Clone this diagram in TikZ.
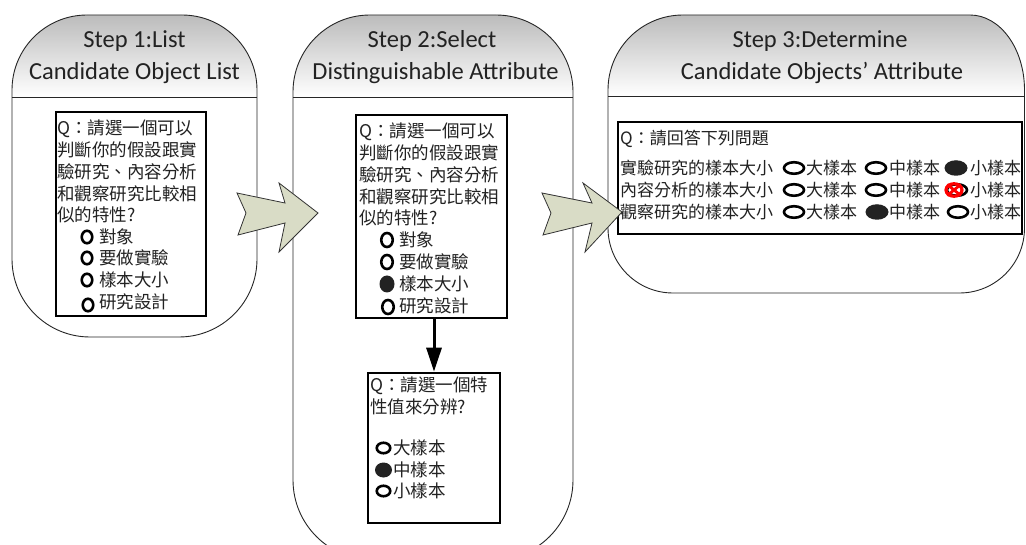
\documentclass[tikz,border=0pt]{standalone}
\usepackage{fontspec}
\setmainfont{Carlito}
\newfontfamily\cjk{Noto Sans CJK TC}
\usetikzlibrary{arrows.meta,shapes.geometric}
\definecolor{arrowfill}{HTML}{D9DCC6}
\definecolor{ink}{HTML}{222222}
\tikzset{
  panel/.style={draw=black!85, line width=0.9pt},
  header/.style={top color=black!28, bottom color=white},
  qbox/.style={draw=black, line width=2.6pt, inner sep=0pt},
  title/.style={font=\fontsize{24.5}{30}\selectfont, text=ink, anchor=base, inner sep=0pt},
  txt/.style={font=\cjk\fontsize{17.5}{22}\selectfont, text=ink, anchor=base west, inner sep=0pt},
  txts/.style={txt, font=\cjk\fontsize{17}{22}\selectfont},
  ring/.style={ellipse, draw=black, line width=2.6pt, inner sep=0pt},
  ringA/.style={ring, minimum width=10.5pt, minimum height=12.5pt},
  ringB/.style={ring, minimum width=11.5pt, minimum height=14pt},
  ringC/.style={ring, minimum width=13.5pt, minimum height=10.5pt},
  ringD/.style={ring, minimum width=20pt, minimum height=11.5pt},
  dot/.style={ellipse, fill=ink, inner sep=0pt},
  dotB/.style={dot, minimum width=15pt, minimum height=17pt},
  dotC/.style={dot, minimum width=17pt, minimum height=15pt},
  dotD/.style={dot, minimum width=23pt, minimum height=15.5pt},
  flow/.style={draw=black!80, line width=0.8pt, fill=arrowfill, line join=miter},
  down/.style={line width=3pt, -{Triangle[length=24pt,width=15pt]}},
}
% outlines of the three step panels (y grows downwards)
\def\panelA{(12,90) arc[start angle=180,end angle=270,radius=75] -- (182,15)
  arc[start angle=270,end angle=360,radius=75] -- (257,259)
  arc[start angle=0,end angle=90,radius=78] -- (90,337)
  arc[start angle=90,end angle=180,radius=78] -- cycle}
\def\panelB{(293,92) arc[start angle=180,end angle=270,radius=77] -- (496,15)
  arc[start angle=270,end angle=360,radius=77] -- (573,480)
  arc[start angle=0,end angle=90,radius=80] -- (373,560)
  arc[start angle=90,end angle=180,radius=80] -- cycle}
\def\panelC{(608,90) arc[start angle=180,end angle=270,radius=75] -- (970,15)
  arc[start angle=270,end angle=360,x radius=54.5,y radius=75] -- (1024.5,228)
  arc[start angle=0,end angle=90,radius=65] -- (673,293)
  arc[start angle=90,end angle=180,radius=65] -- cycle}
\begin{document}
\begin{tikzpicture}[x=1pt,y=-1pt]
\useasboundingbox (0,0) rectangle (1026,545);
\clip (0,0) rectangle (1026,545);

% panels: white body, shaded header, outline, header rule
\foreach \p/\xa/\xb/\hy in {\panelA/12/257/97, \panelB/293/573/97, \panelC/608/1024.5/96} {
  \fill[white] \p;
  \begin{scope}
    \clip \p;
    \shade[header] (\xa,10) rectangle (\xb,\hy);
  \end{scope}
  \draw[panel] \p;
  \draw[panel] (\xa,\hy) -- (\xb,\hy);
}

% panel titles
\node[title] (t1a) at (134.5,48) {Step 1:List};
\node[title] (t1b) at (134.5,80) {Candidate Object List};
\node[title] (t2a) at (432,48) {Step 2:Select};
\node[title] (t2b) at (435.5,80) {Distinguishable Attribute};
\node[title] (t3a) at (820,48) {Step 3:Determine};
\node[title] (t3b) at (822,80) {Candidate Objects’ Attribute};

% question boxes
\node[qbox, minimum width=150pt, minimum height=204pt] (q1) at (131,214) {};
\node[qbox, minimum width=151pt, minimum height=203pt] (q2) at (431.5,216.5) {};
\node[qbox, minimum width=132pt, minimum height=150pt] (q3) at (434,448) {};
\node[qbox, minimum width=404pt, minimum height=112pt] (q4) at (820,178) {};

% step 1 question
\node[txt] (a1) at (57,134.5) {Q：請選一個可以};
\node[txt] (a2) at (57,156.5) {判斷你的假設跟實};
\node[txt] (a3) at (57,178.5) {驗研究、內容分析};
\node[txt] (a4) at (57,200.5) {和觀察研究比較相};
\node[txt] (a5) at (57,221.5) {似的特性?};
\node[txt] (a6) at (99,243.5) {對象};
\node[txt] (a7) at (99,264.5) {要做實驗};
\node[txt] (a8) at (99,286.5) {樣本大小};
\node[txt] (a9) at (99,308.5) {研究設計};
\node[ringA] (ra6) at (87,237) {};
\node[ringA] (ra7) at (87,258) {};
\node[ringA] (ra8) at (87,280) {};
\node[ringA] (ra9) at (88,305) {};

% step 2 question
\node[txt] (b1) at (359,137.5) {Q：請選一個可以};
\node[txt] (b2) at (359,159.5) {判斷你的假設跟實};
\node[txt] (b3) at (359,181.5) {驗研究、內容分析};
\node[txt] (b4) at (359,203.5) {和觀察研究比較相};
\node[txt] (b5) at (359,224.5) {似的特性?};
\node[txt] (b6) at (399,246.5) {對象};
\node[txt] (b7) at (399,268.5) {要做實驗};
\node[txt] (b8) at (399,290.5) {樣本大小};
\node[txt] (b9) at (399,312.5) {研究設計};
\node[ringB] (rb6) at (387,240) {};
\node[ringB] (rb7) at (387,262) {};
\node[dotB]  (rb8) at (387,284) {};
\node[ringB] (rb9) at (388,307) {};

% follow-up question on the attribute value
\draw[down] (q2.south -| q3.north) -- (q3.north);
\node[txt] (c1) at (370,391.5) {Q：請選一個特};
\node[txt] (c2) at (370,413.5) {性值來分辨?};
\node[txt] (c3) at (393,454.5) {大樣本};
\node[txt] (c4) at (393,476.5) {中樣本};
\node[txt] (c5) at (393,497.5) {小樣本};
\node[ringC] (rc3) at (383.5,448) {};
\node[dotC]  (rc4) at (383.5,470) {};
\node[ringC] (rc5) at (383.5,491) {};

% step 3 questionnaire
\node[txts] (d0) at (620,144.5) {Q：請回答下列問題};
\node[txts] (d1) at (620,174.3) {實驗研究的樣本大小};
\node[txts] (d2) at (620,196.3) {內容分析的樣本大小};
\node[txts] (d3) at (620,218.3) {觀察研究的樣本大小};
\foreach \r/\y in {1/174.3, 2/196.3, 3/218.3} {
  \node[txts] (d\r a) at (806,\y) {大樣本};
  \node[txts] (d\r b) at (889,\y) {中樣本};
  \node[txts] (d\r c) at (970,\y) {小樣本};
}
\node[ringD] (e1a) at (794,168) {};
\node[ringD] (e1b) at (876,168) {};
\node[dotD]  (e1c) at (956,168) {};
\node[ringD] (e2a) at (794,190) {};
\node[ringD] (e2b) at (876,190) {};
\node[ringD] (e2c) at (957,190) {};
\node[ringD] (e3a) at (794,212) {};
\node[dotD]  (e3b) at (877,212) {};
\node[ringD] (e3c) at (958,212) {};
% the rejected answer
\node[ellipse, draw=red, line width=3.2pt, inner sep=0pt, minimum width=16pt, minimum height=12.5pt] (x2c) at (954,190) {};
\draw[red, line width=2.8pt] (x2c.north west) -- (x2c.south east) (x2c.south west) -- (x2c.north east);

% transitions between the steps
\draw[flow] (237,193) -- (285,203) -- (279,183) -- (318,213) -- (279,252) -- (285,223) -- (238,235) -- (246,213) -- cycle;
\draw[flow] (542,193) -- (592,203) -- (583,183) -- (622,212) -- (585,252) -- (592,223) -- (543,235) -- (551,213) -- cycle;
\end{tikzpicture}
\end{document}
